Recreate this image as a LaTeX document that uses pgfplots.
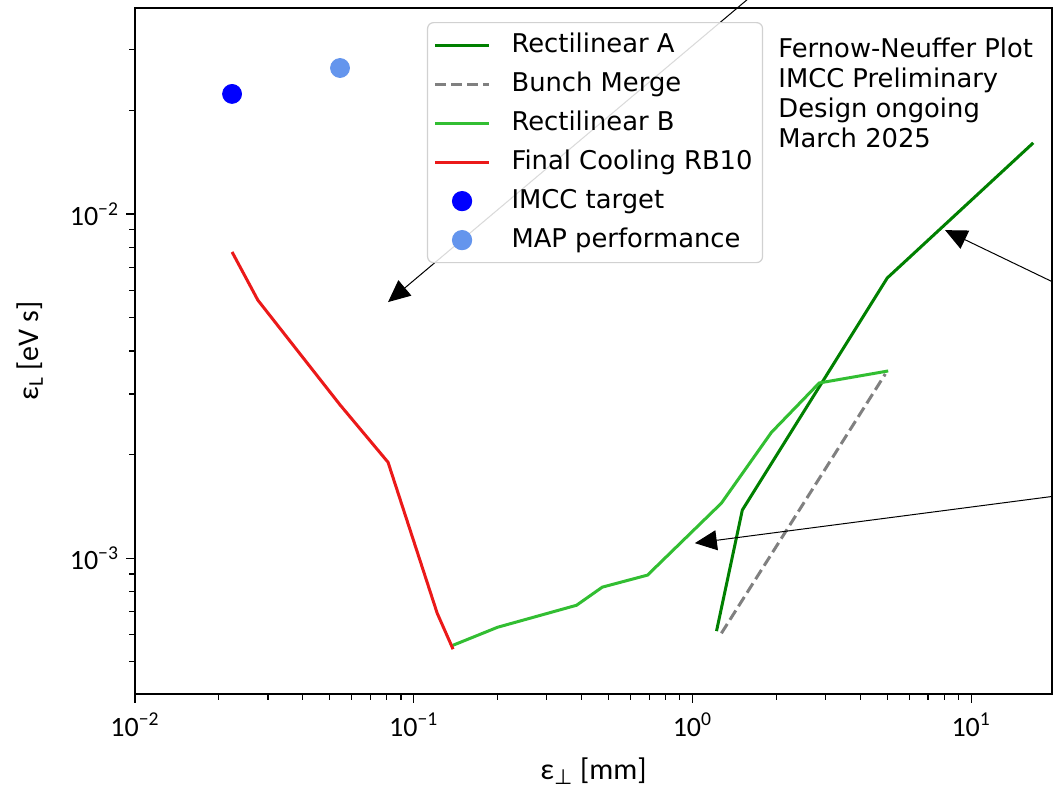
\documentclass[border=0pt]{standalone}
\usepackage{fontspec}
\setmainfont{DejaVu Sans}
\newfontfamily\carlito{Carlito}
\newfontfamily\dejavu{DejaVu Sans}
\usepackage{pgfplots}
\pgfplotsset{compat=1.18}
\usetikzlibrary{arrows.meta}

\definecolor{recA}{RGB}{0,128,0}
\definecolor{recB}{RGB}{50,190,50}
\definecolor{fcool}{RGB}{235,25,25}
\definecolor{bmerge}{RGB}{128,128,128}
\definecolor{imcc}{RGB}{0,0,255}
\definecolor{mapc}{RGB}{100,149,237}

\begin{document}
\begin{tikzpicture}
\begin{axis}[
  scale only axis, width=458.5pt, height=343pt,
  xmode=log, ymode=log,
  xmin=0.01, xmax=19.5, ymin=4.03e-4, ymax=0.0397,
  tick align=outside, tick pos=left,
  major tick length=4.5pt, minor tick length=3pt,
  every tick/.style={black, line width=0.6pt},
  axis line style={line width=0.8pt},
  xtick={0.01,0.1,1,10},
  xticklabels={10\textsuperscript{−2},10\textsuperscript{−1},10\textsuperscript{0},10\textsuperscript{1}},
  minor xtick={0.02,0.03,0.04,0.05,0.06,0.07,0.08,0.09,0.2,0.3,0.4,0.5,0.6,0.7,0.8,0.9,2,3,4,5,6,7,8,9},
  ytick={0.001,0.01},
  yticklabels={10\textsuperscript{−3},10\textsuperscript{−2}},
  minor ytick={4e-4,5e-4,6e-4,7e-4,8e-4,9e-4,2e-3,3e-3,4e-3,5e-3,6e-3,7e-3,8e-3,9e-3,0.02,0.03},
  ticklabel style={font=\carlito\fontsize{14}{16}\selectfont},
  xticklabel style={yshift=-1.5pt},
  xlabel={ε\textsubscript{{\dejavu ⊥}} [mm]},
  ylabel={ε\textsubscript{L} [eV s]},
  label style={font=\carlito\fontsize{15}{18}\selectfont},
  xlabel style={at={(axis description cs:0.5,-0.1122)}, anchor=center},
  ylabel style={at={(axis description cs:-0.1145,0.5)}, anchor=center},
  clip mode=individual,
  legend style={
    at={(0.3184,0.9796)}, anchor=north west,
    draw=black!18, line width=0.6pt, rounded corners=3pt,
    fill=white, fill opacity=0.85, text opacity=1,
    font=\dejavu\fontsize{12.9}{15}\selectfont,
    inner xsep=3pt, inner ysep=1.5pt,
    nodes={text height=9.7pt, text depth=2.6pt, inner ysep=3.6pt},
    cells={anchor=west},
    /tikz/every odd column/.append style={column sep=8.5pt},
  },
  legend image post style={fill opacity=1, draw opacity=1},
  legend image code/.code={\draw[mark repeat=2,mark phase=2,#1] plot coordinates {(0pt,0pt)(13.5pt,0pt)(27pt,0pt)};},
]
% Rectilinear A
\addplot[recA, line width=1.5pt] coordinates {
(1.22,6.14e-4)(1.51,1.38e-3)(5.00,6.52e-3)(16.7,0.0161)};
\addlegendentry{Rectilinear A}
% Bunch Merge
\addplot[bmerge, line width=1.5pt, dash pattern=on 5.5pt off 2.5pt] coordinates {
(1.27,6.05e-4)(4.92,3.43e-3)};
\addlegendentry{Bunch Merge}
% Rectilinear B
\addplot[recB, line width=1.5pt] coordinates {
(0.138,5.58e-4)(0.200,6.30e-4)(0.384,7.30e-4)(0.475,8.24e-4)(0.690,8.93e-4)
(1.27,1.445e-3)(1.92,2.32e-3)(2.85,3.23e-3)(5.04,3.50e-3)};
\addlegendentry{Rectilinear B}
% Final Cooling RB10
\addplot[fcool, line width=1.5pt] coordinates {
(0.0223,7.76e-3)(0.0276,5.62e-3)(0.0544,2.79e-3)(0.0809,1.90e-3)(0.1214,6.92e-4)(0.1384,5.44e-4)};
\addlegendentry{Final Cooling RB10}
% targets
\addplot[only marks, mark=*, mark size=4.75pt, color=imcc] coordinates {(0.0223,0.02234)};
\addlegendentry{IMCC target}
\addplot[only marks, mark=*, mark size=4.75pt, color=mapc] coordinates {(0.0544,0.02657)};
\addlegendentry{MAP performance}

\node[anchor=north west, align=left, inner sep=0pt,
  font=\dejavu\fontsize{12.9}{15}\selectfont] at (rel axis cs:0.7012,0.9577)
  {Fernow-Neuffer Plot\\IMCC Preliminary\\Design ongoing\\March 2025};

% annotation arrows coming from outside the frame
\draw[line width=0.5pt, -{Triangle[length=11pt,width=10pt]}]
  (axis cs:6.89,0.115) -- (axis cs:0.0809,5.55e-3);
\draw[line width=0.5pt, -{Triangle[length=11pt,width=10pt]}]
  (axis cs:48,4.48e-3) -- (axis cs:8.06,8.98e-3);
\draw[line width=0.5pt, -{Triangle[length=11pt,width=10pt]}]
  (axis cs:66.2,1.72e-3) -- (axis cs:1.02,1.106e-3);
\end{axis}
\pgfresetboundingbox
\useasboundingbox ([shift={(-67.5pt,-47pt)}]current axis.south west)
  rectangle ([shift={(0.5pt,4pt)}]current axis.north east);
\end{tikzpicture}
\end{document}
